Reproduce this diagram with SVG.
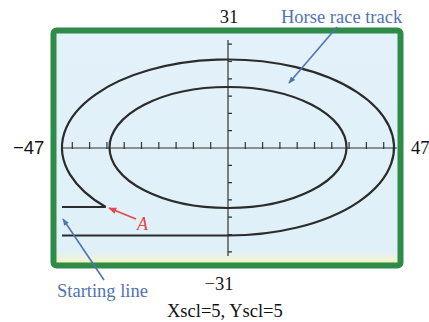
<svg xmlns="http://www.w3.org/2000/svg" width="429" height="322" viewBox="0 0 429 322">
<defs>
<linearGradient id="scr" x1="0" y1="0" x2="0" y2="1">
<stop offset="0" stop-color="#e3f2fa"/>
<stop offset="0.94" stop-color="#e0f0f8"/>
<stop offset="0.975" stop-color="#eef3d8"/>
<stop offset="1" stop-color="#f0ee9a"/>
</linearGradient>
<marker id="ab" viewBox="0 0 10 10" refX="9" refY="5" markerWidth="7" markerHeight="7" orient="auto" markerUnits="userSpaceOnUse">
<path d="M0,1 L10,5 L0,9 Z" fill="#4f73b3"/>
</marker>
<marker id="ar" viewBox="0 0 10 10" refX="9" refY="5" markerWidth="8" markerHeight="8" orient="auto" markerUnits="userSpaceOnUse">
<path d="M0,1 L10,5 L0,9 Z" fill="#e0484a"/>
</marker>
</defs>
<style>
.curve{fill:none;stroke:#2b2b2b;stroke-width:2.2}
.axis{fill:none;stroke:#333;stroke-width:1.2}
.tick{stroke:#333;stroke-width:1.2}
.lbl{font-family:"Liberation Serif",serif;font-size:18.5px;fill:#111}
.blue{font-family:"Liberation Serif",serif;font-size:18.5px;fill:#4f73b3}
.barrow{stroke:#4f73b3;stroke-width:1.6;fill:none}
.rarrow{stroke:#e0484a;stroke-width:1.6;fill:none}
</style>
<rect x="0" y="0" width="429" height="322" fill="#fff"/>
<g id="screen">
<rect x="53.5" y="30.5" width="347" height="235" rx="3" fill="url(#scr)" stroke="#2e8c48" stroke-width="6"/>
</g>
<g id="axes">
<line class="axis" x1="62" y1="148" x2="397" y2="148"/>
<line class="axis" x1="228" y1="40" x2="228" y2="256"/>
<path class="tick" d="M72.3,142v7M89.6,142v7M106.9,142v7M124.2,142v7M141.5,142v7M158.8,142v7M176.1,142v7M193.4,142v7M210.7,142v7M245.3,142v7M262.6,142v7M279.9,142v7M297.2,142v7M314.5,142v7M331.8,142v7M349.1,142v7M366.4,142v7M383.7,142v7"/>
<path class="tick" d="M228,44.2h4M228,61.5h4M228,78.8h4M228,96.1h4M228,113.4h4M228,130.7h4M228,165.3h4M228,182.6h4M228,199.9h4M228,217.2h4M228,234.5h4M228,251.8h4"/>
</g>
<g id="track">
<path class="curve" d="M105.7,207 A166,88 0 1 1 228,235.5 L62,235.5"/>
<path class="curve" d="M62,207 L105.7,207"/>
<ellipse class="curve" cx="228" cy="147.5" rx="118.5" ry="60.5"/>
</g>
<g id="connectors">
<line class="barrow" x1="337" y1="27" x2="289" y2="83" marker-end="url(#ab)"/>
<line class="barrow" x1="104" y1="280" x2="63" y2="219" marker-end="url(#ab)"/>
<line class="rarrow" x1="136" y1="219" x2="109" y2="208" marker-end="url(#ar)"/>
</g>
<g id="labels">
<text class="lbl" x="229" y="23" text-anchor="middle">31</text>
<text class="blue" x="281" y="23">Horse race track</text>
<text x="13" y="154" style="font-family:'Liberation Sans',sans-serif;font-size:18.5px;fill:#111">−47</text>
<text class="lbl" x="411" y="154">47</text>
<text class="lbl" x="219" y="290" text-anchor="middle">−31</text>
<text class="blue" x="57" y="297">Starting line</text>
<text class="lbl" x="167" y="317">Xscl=5, Yscl=5</text>
<text x="137" y="230" style="font-family:'Liberation Serif',serif;font-size:18px;font-style:italic;fill:#e0484a">A</text>
</g>
</svg>
